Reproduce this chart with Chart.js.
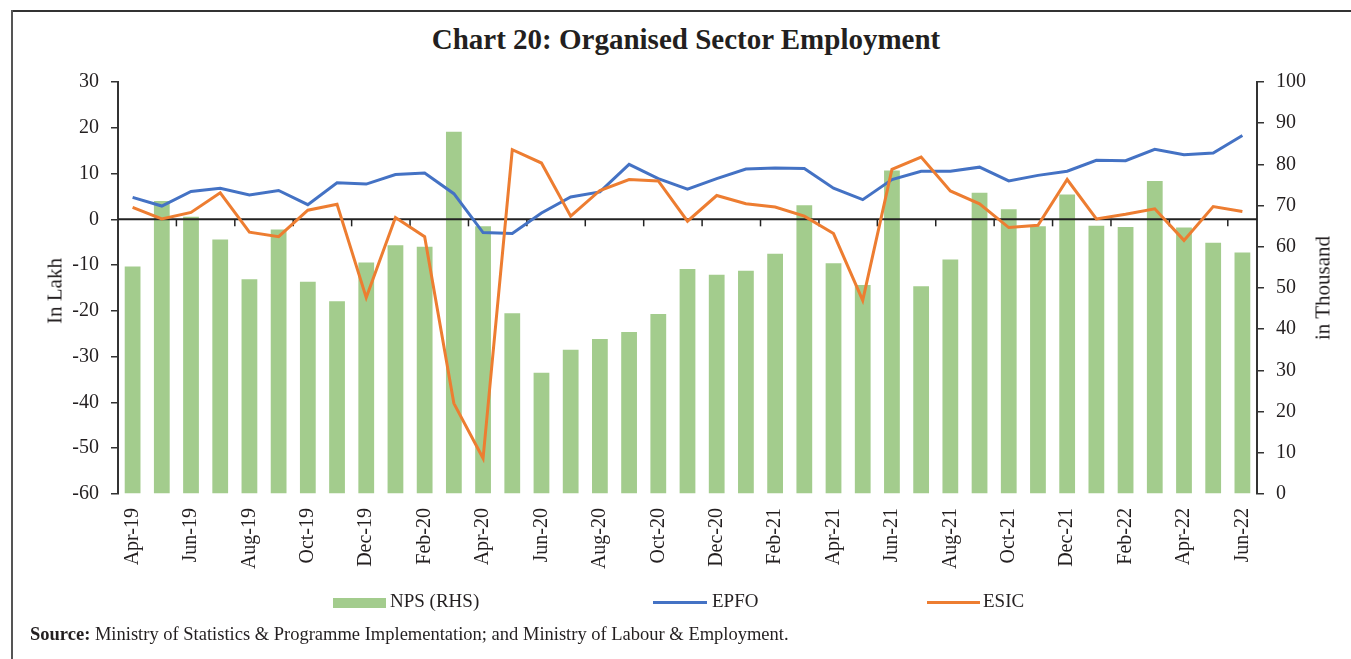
<!DOCTYPE html>
<html>
<head>
<meta charset="utf-8">
<script src="https://cdn.jsdelivr.net/npm/chart.js@4.4.1/dist/chart.umd.min.js"></script>
<style>
    body { margin: 0; background: #fff; font-family: "Liberation Serif", serif; color: #231f20; }
    #wrap { position: relative; width: 1351px; height: 659px; overflow: hidden; }
    #frameTop { position: absolute; left: 12px; top: 10px; width: 1339px; height: 0; border-top: 2px solid #333; }
    #frameLeft { position: absolute; left: 11px; top: 10px; width: 0; height: 649px; border-left: 2px solid #555; }
    #title { position: absolute; left: 0; width: 1372px; top: 23px; text-align: center; font-weight: bold; font-size: 29px; }
    canvas { position: absolute; left: 0; top: 0; }
    .axisTitle { position: absolute; font-size: 21px; white-space: nowrap; transform: translate(-50%, -50%) rotate(-90deg); }
    .leg { position: absolute; font-size: 19px; top: 590px; }
    .swatch { position: absolute; }
    #source { position: absolute; left: 30px; top: 624px; font-size: 18.5px; }
</style>
</head>
<body>
<div id="wrap">
    <div id="frameTop"></div>
    <div id="frameLeft"></div>
    <div id="title">Chart 20: Organised Sector Employment</div>
    <canvas id="empChart" width="1351" height="659"></canvas>
    <div class="axisTitle" style="left:55px; top:291px;">In Lakh</div>
    <div class="axisTitle" style="left:1323px; top:288px;">in Thousand</div>

    <div class="swatch" style="left:333px; top:598px; width:53px; height:10px; background:#a3cc8d;"></div>
    <div class="leg" style="left:390px;">NPS (RHS)</div>
    <div class="swatch" style="left:653px; top:601px; width:54px; height:3px; background:#4472c4;"></div>
    <div class="leg" style="left:712px;">EPFO</div>
    <div class="swatch" style="left:927px; top:601px; width:53px; height:3px; background:#ed7d31;"></div>
    <div class="leg" style="left:983px;">ESIC</div>

    <div id="source"><b>Source:</b> Ministry of Statistics &amp; Programme Implementation; and Ministry of Labour &amp; Employment.</div>
</div>
<script>
const months = ["Apr-19", "May-19", "Jun-19", "Jul-19", "Aug-19", "Sep-19", "Oct-19", "Nov-19", "Dec-19", "Jan-20",
    "Feb-20", "Mar-20", "Apr-20", "May-20", "Jun-20", "Jul-20", "Aug-20", "Sep-20", "Oct-20", "Nov-20",
    "Dec-20", "Jan-21", "Feb-21", "Mar-21", "Apr-21", "May-21", "Jun-21", "Jul-21", "Aug-21", "Sep-21",
    "Oct-21", "Nov-21", "Dec-21", "Jan-22", "Feb-22", "Mar-22", "Apr-22", "May-22", "Jun-22"];

// NPS, in thousand (right axis)
const npsValues = [55.2, 71.1, 67.3, 61.8, 52.1, 64.2, 51.5, 46.8, 56.2, 60.4,
    60.0, 87.9, 65.0, 43.9, 29.4, 35.0, 37.6, 39.3, 43.7, 54.6,
    53.2, 54.2, 58.3, 70.1, 56.0, 50.7, 78.5, 50.4, 56.9, 73.1,
    69.1, 65.0, 72.7, 65.1, 64.8, 76.0, 64.7, 61.0, 58.6];

// EPFO, in lakh (left axis)
const epfoValues = [4.8, 2.9, 6.1, 6.8, 5.3, 6.3, 3.2, 8.0, 7.7, 9.8,
    10.1, 5.6, -2.9, -3.1, 1.4, 4.9, 6.0, 12.0, 8.9, 6.6,
    8.9, 11.0, 11.2, 11.1, 6.8, 4.3, 8.7, 10.5, 10.5, 11.4,
    8.4, 9.6, 10.5, 12.9, 12.8, 15.3, 14.1, 14.5, 18.3];

// ESIC, in lakh (left axis)
const esicValues = [2.6, 0.1, 1.5, 5.8, -2.8, -3.8, 2.0, 3.3, -17.1, 0.4,
    -3.8, -40.2, -52.2, 15.2, 12.3, 0.7, 6.3, 8.7, 8.4, -0.4,
    5.2, 3.4, 2.7, 0.7, -3.1, -17.7, 10.9, 13.6, 6.2, 3.4,
    -1.8, -1.3, 8.7, 0.1, 1.1, 2.3, -4.6, 2.8, 1.7];

const leftTicks = [-60, -50, -40, -30, -20, -10, 0, 10, 20, 30];
const rightTicks = [0, 10, 20, 30, 40, 50, 60, 70, 80, 90, 100];

const axisColor = "#333";
const tickFont = { family: "Liberation Serif", size: 20 };

// zero line with a mark every two months, drawn over the bars
const zeroLine = {
    id: "zeroLine",
    afterDatasetDraw(chart, args) {
        if (args.index !== 0) return;
        const ctx = chart.ctx;
        const x = chart.scales.x;
        const y0 = chart.scales.y.getPixelForValue(0);
        const step = x.getPixelForValue(1) - x.getPixelForValue(0);
        ctx.save();
        ctx.strokeStyle = "#222";
        ctx.lineWidth = 2;
        ctx.beginPath();
        ctx.moveTo(chart.chartArea.left, y0);
        ctx.lineTo(chart.chartArea.right, y0);
        ctx.stroke();
        ctx.lineWidth = 1.5;
        for (let i = 2; i < months.length; i += 2) {
            const bx = x.getPixelForValue(i) - step / 2;
            ctx.beginPath();
            ctx.moveTo(bx, y0);
            ctx.lineTo(bx, y0 + 7);
            ctx.stroke();
        }
        ctx.restore();
    }
};

new Chart(document.getElementById("empChart").getContext("2d"), {
    type: "bar",
    data: {
        labels: months,
        datasets: [
            {
                type: "bar",
                label: "NPS (RHS)",
                data: npsValues,
                yAxisID: "y1",
                backgroundColor: "#a3cc8d",
                categoryPercentage: 1,
                barPercentage: 0.54,
                order: 3
            },
            {
                type: "line",
                label: "EPFO",
                data: epfoValues,
                yAxisID: "y",
                borderColor: "#4472c4",
                borderWidth: 3,
                pointRadius: 0,
                tension: 0,
                order: 2
            },
            {
                type: "line",
                label: "ESIC",
                data: esicValues,
                yAxisID: "y",
                borderColor: "#ed7d31",
                borderWidth: 3,
                pointRadius: 0,
                tension: 0,
                order: 1
            }
        ]
    },
    options: {
        responsive: false,
        animation: false,
        layout: { padding: { top: 82, left: 0, right: 0, bottom: 80 } },
        plugins: {
            legend: { display: false },
            tooltip: { enabled: false }
        },
        scales: {
            x: {
                position: "bottom",
                grid: { display: false, drawTicks: false },
                border: { display: false },
                ticks: {
                    autoSkip: false,
                    minRotation: 90,
                    maxRotation: 90,
                    padding: 14,
                    color: "#231f20",
                    font: tickFont,
                    callback: function (val, idx) { return idx % 2 === 0 ? months[idx] : ""; }
                },
                afterFit(scale) { scale.height = 85; }
            },
            y: {
                position: "left",
                min: leftTicks[0],
                max: leftTicks[leftTicks.length - 1],
                afterBuildTicks(scale) { scale.ticks = leftTicks.map(v => ({ value: v })); },
                grid: { drawOnChartArea: false, drawTicks: true, tickLength: 7, color: axisColor, lineWidth: 1.5 },
                border: { display: true, color: axisColor, width: 2 },
                ticks: { padding: 12, color: "#231f20", font: tickFont },
                afterFit(scale) { scale.width = 118; }
            },
            y1: {
                position: "right",
                min: rightTicks[0],
                max: rightTicks[rightTicks.length - 1],
                afterBuildTicks(scale) { scale.ticks = rightTicks.map(v => ({ value: v })); },
                grid: { drawOnChartArea: false, drawTicks: true, tickLength: 7, color: axisColor, lineWidth: 1.5 },
                border: { display: true, color: axisColor, width: 2 },
                ticks: { padding: 12, color: "#231f20", font: tickFont },
                afterFit(scale) { scale.width = 94; }
            }
        }
    },
    plugins: [zeroLine]
});
</script>
</body>
</html>
